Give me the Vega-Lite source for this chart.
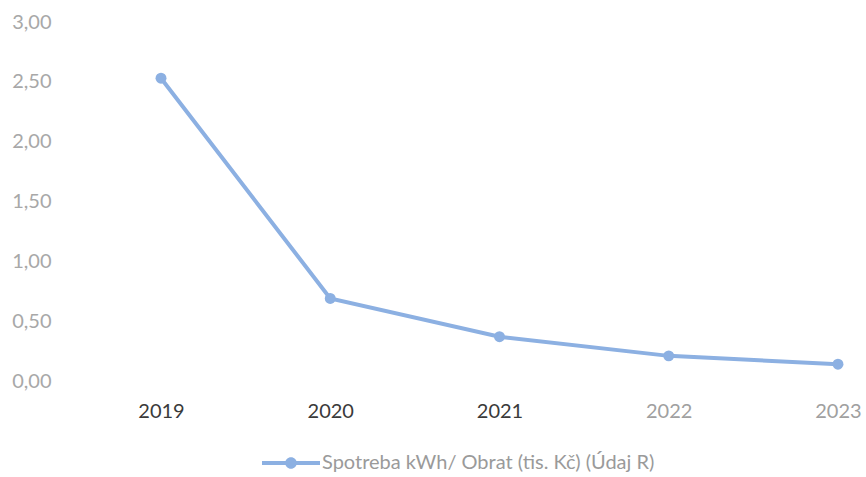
{
  "$schema": "https://vega.github.io/schema/vega-lite/v6.json",
  "autosize": "none",
  "padding": {"left": 76, "top": 22, "right": 0, "bottom": 96},
  "width": 790,
  "height": 359,
  "background": "white",
  "config": {"view": {"stroke": null}, "font": "Lato"},
  "data": {"values": [
    {"rok": "2019", "hodnota": 2.53, "serie": "Spotreba kWh/ Obrat (tis. Kč) (Údaj R)"},
    {"rok": "2020", "hodnota": 0.69, "serie": "Spotreba kWh/ Obrat (tis. Kč) (Údaj R)"},
    {"rok": "2021", "hodnota": 0.37, "serie": "Spotreba kWh/ Obrat (tis. Kč) (Údaj R)"},
    {"rok": "2022", "hodnota": 0.21, "serie": "Spotreba kWh/ Obrat (tis. Kč) (Údaj R)"},
    {"rok": "2023", "hodnota": 0.14, "serie": "Spotreba kWh/ Obrat (tis. Kč) (Údaj R)"}
  ]},
  "encoding": {
    "x": {"field": "rok", "type": "ordinal", "scale": {"type": "point", "padding": 0.334, "align": 0.752},
      "axis": {"title": null, "labelAngle": 0, "domain": false, "ticks": false, "labelPadding": 20, "labelFontSize": 20,
        "labelColor": {"expr": "datum.value == '2022' || datum.value == '2023' ? '#a0a0a0' : '#3a3a3a'"}}},
    "y": {"field": "hodnota", "type": "quantitative", "scale": {"domain": [0, 3]},
      "axis": {"title": null, "values": [0, 0.5, 1, 1.5, 2, 2.5, 3], "grid": false, "domain": false, "ticks": false,
        "labelPadding": 25, "labelFontSize": 20, "labelColor": "#a8a8a8",
        "labelExpr": "replace(format(datum.value, '.2f'), '.', ',')"}},
    "color": {"field": "serie", "type": "nominal", "scale": {"range": ["#8cb0e2"]},
      "legend": {"title": null, "orient": "none", "legendX": 186, "legendY": 412, "labelFontSize": 20, "labelColor": "#9a9a9a",
        "labelLimit": 500,
        "symbolType": "M-1,-0.07L1,-0.07L1,0.07L-1,0.07Z M-0.2,0A0.2,0.2 0 1,1 0.2,0A0.2,0.2 0 1,1 -0.2,0Z",
        "symbolSize": 3364, "symbolStrokeWidth": 0, "labelOffset": 2}}
  },
  "layer": [
    {"mark": {"type": "line", "strokeWidth": 4}},
    {"mark": {"type": "point", "filled": true, "size": 120, "opacity": 1}}
  ]
}
